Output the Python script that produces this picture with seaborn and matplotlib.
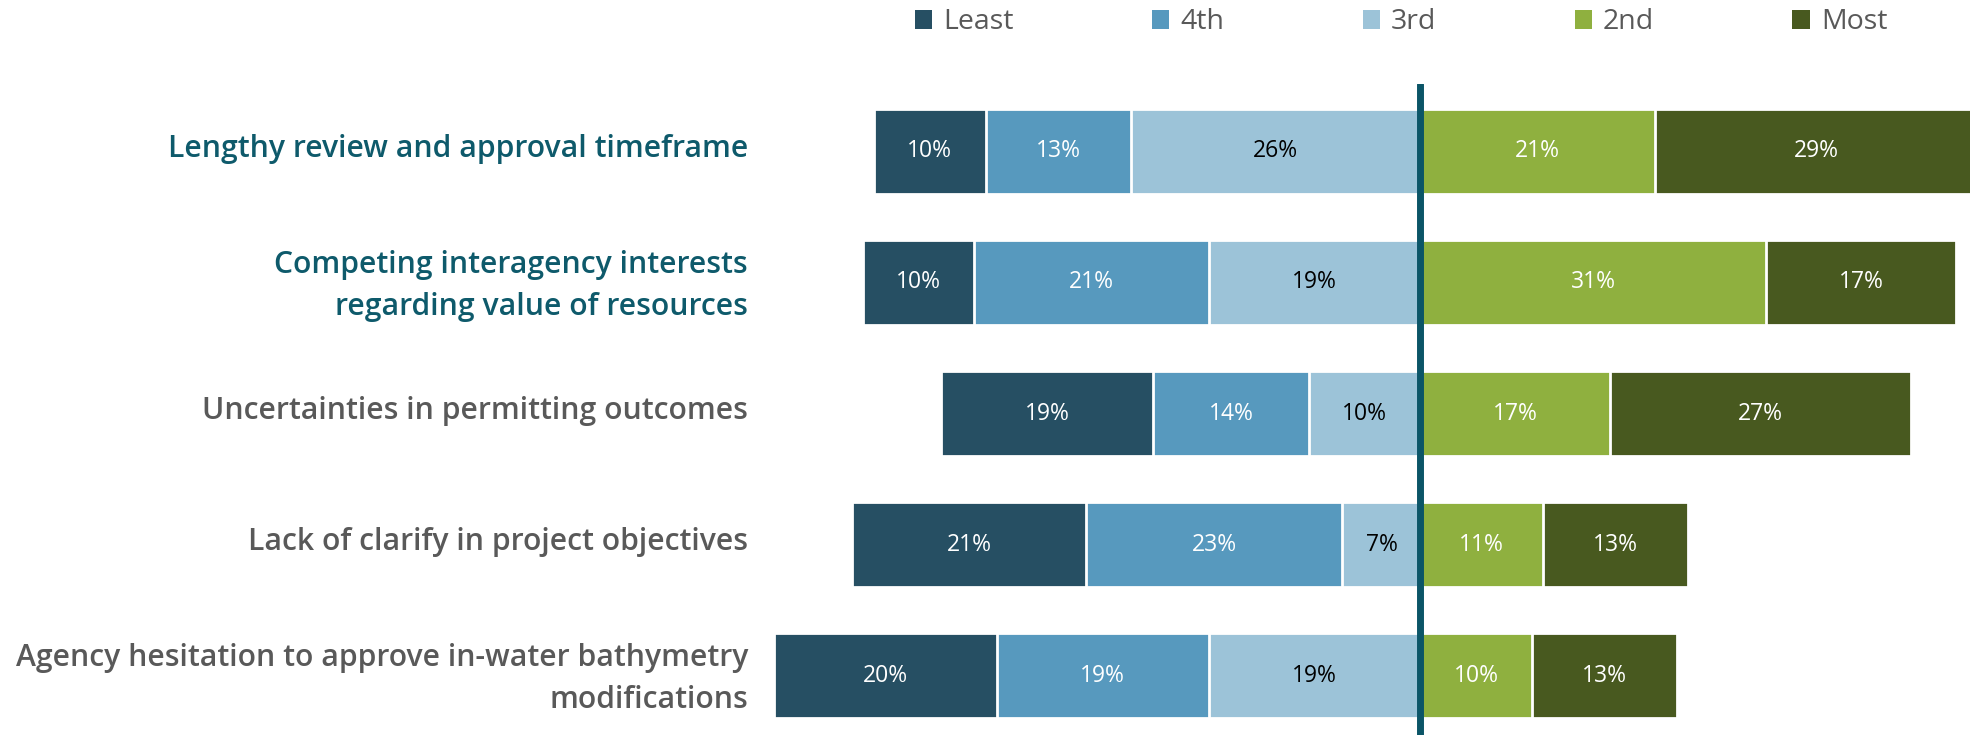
import numpy as np
import pandas as pd
import matplotlib
matplotlib.use("Agg")
import matplotlib.pyplot as plt
from matplotlib.patches import Patch
from matplotlib.transforms import ScaledTranslation
import seaborn as sns

# Data (percent of responses per rank)
categories = [
    "Lengthy review and approval timeframe",
    "Competing interagency interests\nregarding value of resources",
    "Uncertainties in permitting outcomes",
    "Lack of clarify in project objectives",
    "Agency hesitation to approve in-water bathymetry\nmodifications",
]
least = [10, 10, 19, 21, 20]
fourth = [13, 21, 14, 23, 19]
third = [26, 19, 10, 7, 19]
second = [21, 31, 17, 11, 10]
most = [29, 17, 27, 13, 13]

rank_names = ["Least", "4th", "3rd", "2nd", "Most"]
rank_colors = ["#264F63", "#5799BE", "#9CC3D8", "#8FB03F", "#48591F"]
text_colors = ["white", "white", "black", "white", "white"]
label_colors = ["#0E5A6B", "#0E5A6B", "#595959", "#595959", "#595959"]

sns.set_theme(style="white")
plt.rcParams['font.family'] = ['Open Sans', 'DejaVu Sans']

df = pd.DataFrame({"category": categories, "Least": least, "4th": fourth,
                   "3rd": third, "2nd": second, "Most": most})

# segment start/end for the diverging stack (left side negative)
df["3rd_end"] = -df["3rd"]
df["4th_end"] = df["3rd_end"] - df["4th"]
df["Least_end"] = df["4th_end"] - df["Least"]
df["2nd_end"] = df["2nd"]
df["Most_end"] = df["2nd_end"] + df["Most"]
starts = {"Least": df["4th_end"], "4th": df["3rd_end"], "3rd": 0 * df["3rd"],
          "2nd": 0 * df["2nd"], "Most": df["2nd_end"]}

fig = plt.figure(figsize=(19.7, 7.35), dpi=100)
ax = fig.add_axes([0.3871, 0.0, 0.6129, 0.8857])

# longest bars first so the shorter ones sit on top and form the stack
for name in ["Least", "4th", "3rd", "Most", "2nd"]:
    color = rank_colors[rank_names.index(name)]
    sns.barplot(x=df[name + "_end"], y=df["category"], orient="h", color=color,
                saturation=1, width=0.649, edgecolor="white", linewidth=2, ax=ax)

# percentage labels
for name, tc in zip(rank_names, text_colors):
    mids = (starts[name] + df[name + "_end"]) / 2
    for i, (m, v) in enumerate(zip(mids, df[name])):
        ax.text(m, i, f"{v:.0f}%", ha="center", va="center", color=tc,
                fontsize=16.5)

ax.axvline(0, color="#0B5567", lw=5, zorder=5)

ax.set_xlim(-59, 49.28)
ax.set_ylim(4.454, -0.515)
ax.set_xticks([])
ax.set_xlabel("")
ax.set_ylabel("")
ax.tick_params(axis="y", length=0, pad=10.5)
shift = ScaledTranslation(0, 4 / 72, fig.dpi_scale_trans)
for lbl, c in zip(ax.get_yticklabels(), label_colors):
    lbl.set_color(c)
    lbl.set_fontsize(21.7)
    lbl.set_fontweight("semibold")
    lbl.set_linespacing(1.52)
    lbl.set_transform(lbl.get_transform() + shift)
sns.despine(ax=ax, left=True, bottom=True)

handles = [Patch(facecolor=c, edgecolor="none") for c in rank_colors]
fig.legend(handles, rank_names, ncol=5, loc="center left",
           bbox_to_anchor=(0.4645, 0.97), frameon=False, borderpad=0,
           borderaxespad=0, handlelength=0.6, handleheight=0.65,
           handletextpad=0.4, columnspacing=4.85, fontsize=20.5,
           labelcolor="#595959")

fig.savefig("out.png", dpi=100)
